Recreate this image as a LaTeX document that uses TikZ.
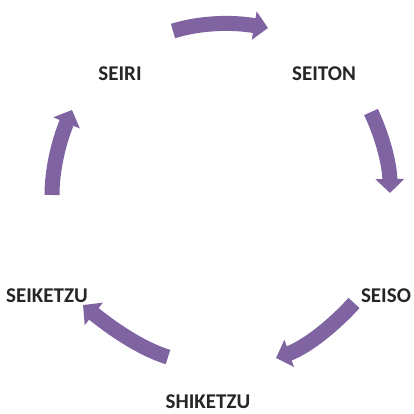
\documentclass[tikz,border=0pt]{standalone}
\usepackage{fontspec}
\setmainfont{Carlito}
\usetikzlibrary{arrows.meta}
\definecolor{arrowpurple}{HTML}{8064A2}
\tikzset{
  cyclearrow/.style={draw=arrowpurple, line width=15pt,
    -{Triangle[width=28pt,length=14pt]}},
  steplabel/.style={font=\bfseries\fontsize{21}{23}\selectfont, text=black!85, inner sep=0pt}
}
\begin{document}
\begin{tikzpicture}[x=1pt,y=-1pt]
\useasboundingbox (0,0) rectangle (413,414);
\fill[white] (0,0) rectangle (413,414);
\node[steplabel] (seiri) at (120,73.5) {SEIRI};
\node[steplabel] (seiton) at (324,73.5) {SEITON};
\node[steplabel] (seiso) at (386,296) {SEISO};
\node[steplabel] (shiketzu) at (208,402) {SHIKETZU};
\node[steplabel] (seiketzu) at (47,296) {SEIKETZU};
\coordinate (a1s) at (173,31);
\coordinate (a1e) at (268,28);
\coordinate (a2s) at (371,112);
\coordinate (a2e) at (390,193);
\coordinate (a3s) at (354,303);
\coordinate (a3e) at (276,358);
\coordinate (a4s) at (168,357);
\coordinate (a4e) at (83,305);
\coordinate (a5s) at (52,195);
\coordinate (a5e) at (72,110);
\draw[cyclearrow] (a1s) .. controls (200,22.67) and (231.67,21.67) .. (a1e);
\draw[cyclearrow] (a2s) .. controls (383.33,138.33) and (389.67,165.33) .. (a2e);
\draw[cyclearrow] (a3s) .. controls (329.33,330) and (303.33,348.33) .. (a3e);
\draw[cyclearrow] (a4s) .. controls (145.67,350.33) and (117.33,333) .. (a4e);
\draw[cyclearrow] (a5s) .. controls (52,170) and (58.67,141.67) .. (a5e);
\end{tikzpicture}
\end{document}
